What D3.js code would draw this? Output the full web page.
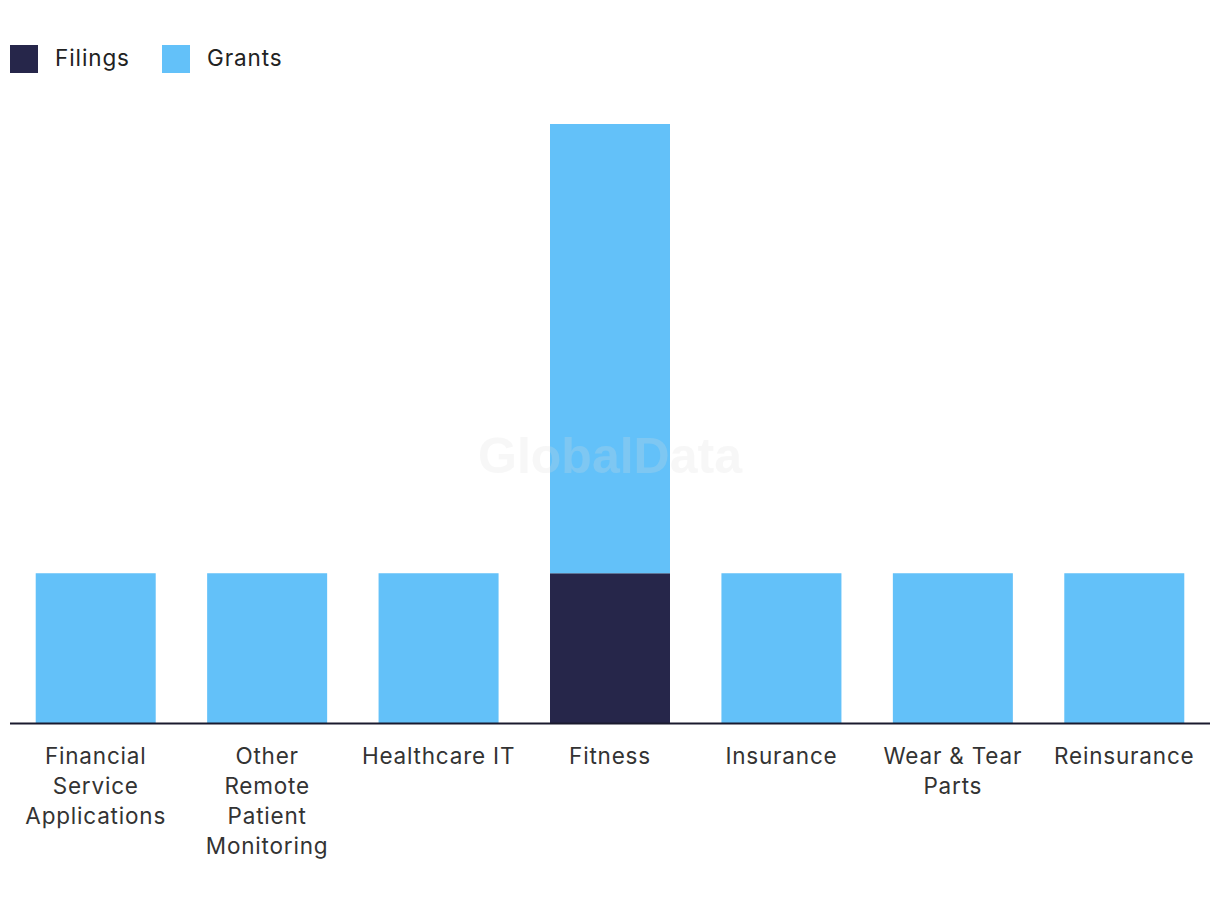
<!DOCTYPE html>
<html><head><meta charset="utf-8">
<script src="https://cdn.jsdelivr.net/npm/d3@7"></script>
<style>body{margin:0;background:#fff;} svg{display:block;}</style>
</head><body>
<script>
const categories = ["Financial Service Applications","Other Remote Patient Monitoring","Healthcare IT","Fitness","Insurance","Wear & Tear Parts","Reinsurance"];
const labelLines = [["Financial","Service","Applications"],["Other","Remote","Patient","Monitoring"],["Healthcare IT"],["Fitness"],["Insurance"],["Wear & Tear","Parts"],["Reinsurance"]];
const filings = [0,0,0,1,0,0,0];
const grants = [1,1,1,3,1,1,1];
const seriesNames = ["Filings","Grants"];
const colors = ["#26264a","#63c1f9"];

const W=1220,H=910;
const svg=d3.select("body").append("svg").attr("width",W).attr("height",H);
const font="Inter, 'Noto Sans', sans-serif";

const x=d3.scaleBand().domain(categories).range([10,1210]).paddingInner(0.3).paddingOuter(0.15);
const y=d3.scaleLinear().domain([0,4]).range([723,124]);

const data=categories.map((c,i)=>({cat:c,Filings:filings[i],Grants:grants[i]}));
const stack=d3.stack().keys(seriesNames)(data);
svg.append("g").selectAll("g").data(stack).join("g").attr("fill",(d,i)=>colors[i])
  .selectAll("rect").data(d=>d).join("rect")
  .attr("x",d=>x(d.data.cat)).attr("width",x.bandwidth())
  .attr("y",d=>y(d[1])).attr("height",d=>y(d[0])-y(d[1]));

// watermark (on top of bars)
svg.append("text").attr("x",610).attr("y",473).attr("text-anchor","middle")
  .attr("font-family","Liberation Sans, Arial, sans-serif").attr("font-weight","bold").attr("font-size",50)
  .attr("fill","#dddddd").attr("opacity",0.22).text("GlobalData");

// axis line
svg.append("line").attr("x1",10).attr("x2",1210).attr("y1",723.5).attr("y2",723.5)
  .attr("stroke","#1a1a2e").attr("stroke-width",2);

// x labels
const lab=svg.append("g");
categories.forEach((c,i)=>{
  const t=lab.append("text").attr("text-anchor","middle").attr("font-family",font).attr("font-size",22.5)
    .attr("fill","#333").attr("letter-spacing",0.8);
  labelLines[i].forEach((l,j)=>{
    t.append("tspan").attr("x",x(c)+x.bandwidth()/2).attr("y",764+j*30).text(l);
  });
});

// legend
const lg=svg.append("g");
const lx=[10,162];
seriesNames.forEach((s,i)=>{
  lg.append("rect").attr("x",lx[i]).attr("y",45).attr("width",28).attr("height",28).attr("fill",colors[i]);
  lg.append("text").attr("x",lx[i]+45).attr("y",66).attr("font-family",font).attr("font-size",22.5)
    .attr("fill","#222").attr("letter-spacing",0.9).text(s);
});
</script>
</body></html>
